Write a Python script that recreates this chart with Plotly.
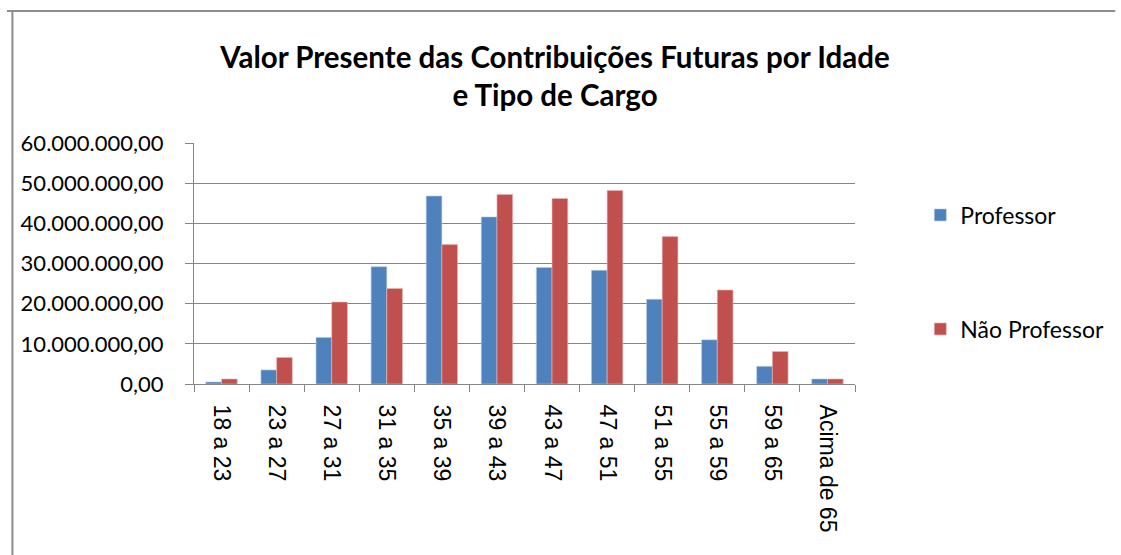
import plotly.graph_objects as go

categories = ["18 a 23", "23 a 27", "27 a 31", "31 a 35", "35 a 39", "39 a 43",
              "43 a 47", "47 a 51", "51 a 55", "55 a 59", "59 a 65", "Acima de 65"]
professor = [0.5e6, 3.5e6, 11.6e6, 29.2e6, 46.8e6, 41.6e6,
             29.0e6, 28.3e6, 21.1e6, 11.0e6, 4.4e6, 1.25e6]
nao_professor = [1.25e6, 6.6e6, 20.4e6, 23.8e6, 34.7e6, 47.2e6,
                 46.2e6, 48.2e6, 36.7e6, 23.4e6, 8.1e6, 1.25e6]
y_ticks = [0, 10e6, 20e6, 30e6, 40e6, 50e6, 60e6]

W, H = 1121, 555
L, R, T, B = 194, 862, 143, 384
pw, ph = R - L, B - T

def px(x):
    return (x - L) / pw

def py(y):
    return (B - y) / ph

fig = go.Figure()
fig.add_trace(go.Bar(x=categories, y=professor, name="Professor",
                     marker=dict(color="#4F81BD", line=dict(color="#B9CDE5", width=0.6)),
                     legend="legend"))
fig.add_trace(go.Bar(x=categories, y=nao_professor, name="Não Professor",
                     marker=dict(color="#C0504D", line=dict(color="#E6B9B8", width=0.6)),
                     legend="legend2"))

grid = "#868686"
fig.update_layout(
    width=W, height=H,
    margin=dict(l=L, r=W - R, t=T, b=H - B, pad=0),
    paper_bgcolor="white", plot_bgcolor="white",
    separators=",.",
    barmode="group", bargap=0.43, bargroupgap=0,
    title=dict(text="<b>Valor Presente das Contribuições Futuras por Idade<br>e Tipo de Cargo</b>",
               x=555 / W, xanchor="center", y=1 - 68 / H, yanchor="middle",
               yref="container", xref="container",
               font=dict(family="Lato", size=29.5, color="black")),
    xaxis=dict(type="category", tickangle=90, tickson="boundaries",
               ticks="outside", ticklen=7, tickcolor=grid,
               showline=True, linecolor=grid, linewidth=1,
               tickfont=dict(family="Liberation Sans", size=23, color="black"),
               ticklabelstandoff=15, showgrid=False),
    yaxis=dict(range=[0, 60e6], tickvals=y_ticks, tickformat=",.2f",
               ticks="outside", ticklen=8, tickcolor=grid,
               showline=True, linecolor=grid, linewidth=1,
               showgrid=True, gridcolor=grid, gridwidth=1, zeroline=False,
               tickfont=dict(family="Lato", size=22, color="black"),
               ticklabelstandoff=17),
    legend=dict(x=px(928), y=py(215), xanchor="left", yanchor="middle",
                font=dict(family="Lato", size=23, color="black"),
                bgcolor="rgba(0,0,0,0)"),
    legend2=dict(x=px(928), y=py(329), xanchor="left", yanchor="middle",
                 font=dict(family="Lato", size=23, color="black"),
                 bgcolor="rgba(0,0,0,0)"),
    showlegend=True,
    shapes=[
        dict(type="line", xref="paper", yref="paper",
             x0=px(5), x1=px(1125), y0=py(11), y1=py(11),
             line=dict(color="#8C8C8C", width=2)),
        dict(type="line", xref="paper", yref="paper",
             x0=px(10.5), x1=px(10.5), y0=py(11), y1=py(560),
             line=dict(color="#8C8C8C", width=2)),
    ],
)

fig.write_html("out.html", config={"displayModeBar": False},
               post_script="document.body.style.margin='0';document.body.style.overflow='hidden';")
